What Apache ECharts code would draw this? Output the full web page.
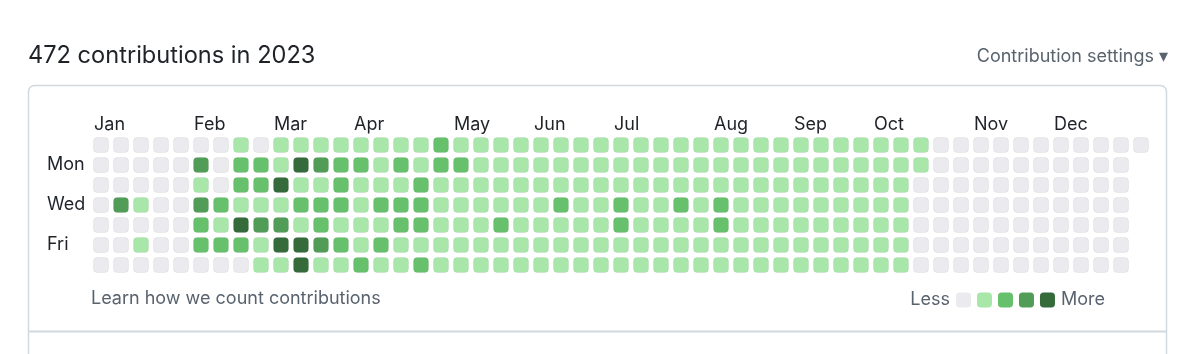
<!DOCTYPE html>
<html>
<head>
<meta charset="utf-8">
<script src="https://cdn.jsdelivr.net/npm/echarts@6/dist/echarts.min.js"></script>
<style>
  html, body { margin: 0; padding: 0; background: #fff; }
  #chart { width: 1200px; height: 354px; }
</style>
</head>
<body>
<div id="chart"></div>
<script>
// contribution level per week (0 = none ... 4 = most), one array per weekday
const days = ['Sun', 'Mon', 'Tue', 'Wed', 'Thu', 'Fri', 'Sat'];
const dayLabels = ['', 'Mon', '', 'Wed', '', 'Fri', ''];

const sun = [0,0,0,0,0,0,0,1,0,1,1,1,1, 1,1,1,1,2,1,1,1,1,1,1,1,1, 1,1,1,1,1,1,1,1,1,1,1,1,1, 1,1,1,0,0,0,0,0,0,0,0,0,0,0];
const mon = [0,0,0,0,0,3,0,2,2,1,4,3,2, 2,1,2,1,2,2,1,1,1,1,1,1,1, 1,1,1,1,1,1,1,1,1,1,1,1,1, 1,1,1,0,0,0,0,0,0,0,0,0,0];
const tue = [0,0,0,0,0,1,0,2,2,4,1,1,2, 1,1,1,2,1,1,1,1,1,1,1,1,1, 1,1,1,1,1,1,1,1,1,1,1,1,1, 1,1,0,0,0,0,0,0,0,0,0,0,0];
const wed = [0,3,1,0,0,3,2,1,1,1,2,2,2, 1,2,2,2,1,1,1,1,1,1,2,1,1, 2,1,1,2,1,2,1,1,1,1,1,1,1, 1,1,0,0,0,0,0,0,0,0,0,0,0];
const thu = [0,0,0,0,0,2,1,4,3,3,1,2,1, 1,1,2,2,1,1,1,2,1,1,1,1,1, 2,1,1,1,1,2,1,1,1,1,1,1,1, 1,1,0,0,0,0,0,0,0,0,0,0,0];
const fri = [0,0,1,0,0,2,2,2,1,4,4,3,2, 1,2,1,1,1,1,1,1,1,1,1,1,1, 1,1,1,1,1,1,1,1,1,1,1,1,1, 1,1,0,0,0,0,0,0,0,0,0,0,0];
const sat = [0,0,0,0,0,0,0,0,1,1,4,1,1, 2,1,1,2,1,1,1,1,1,1,1,1,1, 1,1,1,1,1,1,1,1,1,1,1,1,1, 1,1,0,0,0,0,0,0,0,0,0,0,0];

const months = ['Jan','Feb','Mar','Apr','May','Jun','Jul','Aug','Sep','Oct','Nov','Dec'];
const monthWeeks = [0, 5, 9, 13, 18, 22, 26, 31, 35, 39, 44, 48];

const levelColors = ['#ebebef', '#a8e6a9', '#67c06b', '#519c57', '#356b3b'];

const rows = [sun, mon, tue, wed, thu, fri, sat];
const data = [];
rows.forEach((row, d) => {
  row.forEach((lvl, w) => data.push([w, d, lvl]));
});

const font = 'Inter, "Noto Sans", sans-serif';
const chart = echarts.init(document.getElementById('chart'));

chart.setOption({
  animation: false,
  textStyle: { fontFamily: font },
  grid: { left: 91, top: 135, width: 1060, height: 140 },
  xAxis: {
    type: 'value',
    position: 'top',
    min: -0.5,
    max: 52.5,
    axisLine: { show: false },
    axisTick: { show: false },
    splitLine: { show: false },
    axisLabel: {
      customValues: monthWeeks.map(w => w - 0.35),
      formatter: v => months[monthWeeks.indexOf(Math.round(v + 0.35))] || '',
      align: 'left',
      margin: 1,
      fontSize: 18,
      color: '#1f2328'
    }
  },
  yAxis: {
    type: 'category',
    inverse: true,
    data: days,
    axisLine: { show: false },
    axisTick: { show: false },
    splitLine: { show: false },
    axisLabel: {
      interval: 0,
      formatter: (v, i) => dayLabels[i],
      align: 'left',
      margin: 44,
      fontSize: 18,
      color: '#1f2328'
    }
  },
  visualMap: {
    type: 'piecewise',
    dimension: 2,
    seriesIndex: 0,
    orient: 'horizontal',
    right: 80,
    top: 276,
    itemWidth: 15,
    itemHeight: 15,
    itemGap: 6,
    itemSymbol: 'roundRect',
    showLabel: false,
    selectedMode: false,
    text: ['More', 'Less'],
    textGap: 7,
    textStyle: { fontSize: 18, color: '#59636e' },
    pieces: levelColors.map((c, i) => ({ value: i, color: c }))
  },
  series: [{
    type: 'scatter',
    symbol: 'roundRect',
    symbolSize: 15,
    silent: true,
    itemStyle: { borderColor: 'rgba(31,35,40,0.06)', borderWidth: 1, opacity: 1 },
    data: data
  }],
  graphic: [
    {
      type: 'text', left: 28, top: 44,
      style: { text: '472 contributions in 2023', fontSize: 23.6, fill: '#1f2328', fontFamily: font }
    },
    {
      type: 'text', right: 32, top: 48,
      style: { text: 'Contribution settings \u25BE', fontSize: 18, fill: '#59636e', fontFamily: font }
    },
    {
      type: 'rect', z: -1,
      shape: { x: 28.5, y: 85.5, width: 1138, height: 320, r: 6 },
      style: { fill: 'none', stroke: '#d1d9e0', lineWidth: 1.5 }
    },
    {
      type: 'line',
      shape: { x1: 28.5, y1: 331.5, x2: 1166.5, y2: 331.5 },
      style: { stroke: '#d1d9e0', lineWidth: 2 }
    },
    {
      type: 'text', left: 91, top: 290,
      style: { text: 'Learn how we count contributions', fontSize: 18, fill: '#59636e', fontFamily: font }
    }
  ]
});
</script>
</body>
</html>
